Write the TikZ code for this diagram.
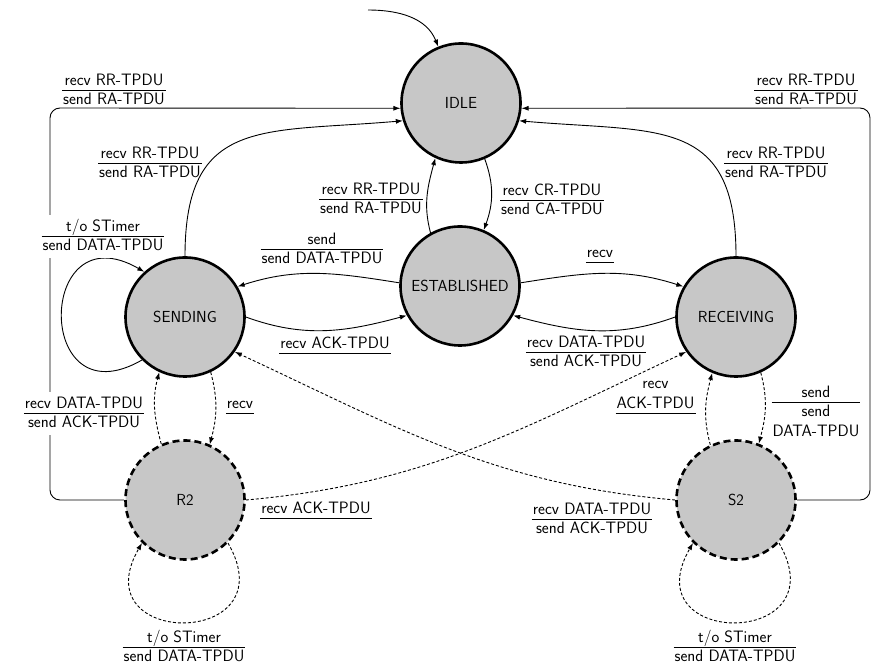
\documentclass[tikz,border=0pt]{standalone}
\usetikzlibrary{arrows.meta}

% transition label: numerator over a rule over denominator;
% the box baseline sits exactly on the top of the rule
\newsavebox\fnumbox
\newsavebox\fdenbox
\newlength\fwd
\newlength\fdengap
\newcommand\frlab[2]{%
  \sbox\fnumbox{\begin{tabular}[b]{@{}c@{}}#1\end{tabular}}%
  \sbox\fdenbox{\begin{tabular}[t]{@{}c@{}}#2\end{tabular}}%
  \setlength\fwd{\wd\fnumbox}%
  \ifdim\wd\fdenbox>\fwd\setlength\fwd{\wd\fdenbox}\fi
  \addtolength\fwd{2pt}%
  \setlength\fdengap{14.5pt}\addtolength\fdengap{-\ht\fdenbox}\addtolength\fdengap{-0.8pt}%
  \vtop{\offinterlineskip
    \vbox{\hbox to\fwd{\hss\raisebox{0pt}[\ht\fnumbox][0pt]{\usebox\fnumbox}\hss}\kern4.5pt}%
    \hrule height0.8pt width\fwd
    \kern\fdengap
    \hbox to\fwd{\hss\usebox\fdenbox\hss}}}

\tikzset{
  st/.style={circle, draw, line width=2.6pt, fill=black!22, minimum size=119pt,
    inner sep=0pt, font=\fontsize{16}{19}\selectfont\sffamily},
  tst/.style={st, dash pattern=on 7pt off 4pt},
  tr/.style={draw, line width=0.9pt, -{Latex[length=7pt,width=5pt]}},
  dtr/.style={tr, dash pattern=on 3pt off 2pt},
  lab/.style={anchor=base, inner sep=0pt, font=\fontsize{16.5}{20}\selectfont\sffamily},
  blank/.style={lab, fill=white, inner sep=2pt},
}

\begin{document}
\begin{tikzpicture}[x=1pt,y=1pt]
\useasboundingbox (0,0) rectangle (875,666);

% states
\node[st]  (idle)      at (461,563) {IDLE};
\node[st]  (est)       at (460,380) {ESTABLISHED};
\node[st]  (sending)   at (185,349) {SENDING};
\node[st]  (receiving) at (736,349) {RECEIVING};
\node[tst] (r2)        at (185,166) {R2};
\node[tst] (s2)        at (736,166) {S2};

\coordinate (init) at (368,656);
\coordinate (lc) at (50,558);
\coordinate (rc) at (870,558);

% transitions
\draw[tr] (init) to[out=0,in=112] (idle.112);
\draw[tr] (sending.90) to[out=90,in=185,looseness=1.4] (idle.197);
\draw[tr] (receiving.90) to[out=90,in=-5,looseness=1.4] (idle.-17);
\draw[tr, rounded corners=10pt] (r2.west) -| (lc) -- (idle.185);
\draw[tr, rounded corners=10pt] (s2.east) -| (rc) -- (idle.-5);
\draw[tr] (est.119) to[out=105,in=255] (idle.245);
\draw[tr] (idle.-67) to[out=-70,in=70] (est.67);
\draw[tr] (est.177) to[out=171,in=18] (sending.30);
\draw[tr] (sending.0) to[out=-20,in=195] (est.209);
\draw[tr] (est.3) to[out=9,in=162] (receiving.150);
\draw[tr] (receiving.180) to[out=200,in=-15] (est.331);
\draw[dtr] (sending.-65) to[out=-75,in=75] (r2.66);
\draw[dtr] (r2.113) to[out=105,in=255] (sending.245);
\draw[dtr] (receiving.-66) to[out=-75,in=75] (s2.68);
\draw[dtr] (s2.115) to[out=105,in=255] (receiving.247);
\draw[dtr] (r2.east) to[out=5,in=205] (receiving.215);
\draw[dtr] (s2.west) to[out=175,in=-25] (sending.-35);
\draw[tr] (sending.225) to[out=210,in=150,distance=125pt] (sending.132);
\draw[dtr] (r2.-45) to[out=-60,in=240,distance=122pt] (r2.225);
\draw[dtr] (s2.-45) to[out=-60,in=240,distance=122pt] (s2.225);

% labels
\node[lab] (l1) at (114,576) {\frlab{recv RR-TPDU}{send RA-TPDU}};
\node[lab] (l2) at (150,503) {\frlab{recv RR-TPDU}{send RA-TPDU}};
\node[lab] (l3) at (371,467) {\frlab{recv RR-TPDU}{send RA-TPDU}};
\node[lab] (l4) at (552,466) {\frlab{recv CR-TPDU}{send CA-TPDU}};
\node[lab] (l5) at (776,503) {\frlab{recv RR-TPDU}{send RA-TPDU}};
\node[lab] (l6) at (806,576) {\frlab{recv RR-TPDU}{send RA-TPDU}};
\node[blank] (l7) at (103,430) {\frlab{t/o STimer}{send DATA-TPDU}};
\node[lab] (l8) at (322,417) {\frlab{send}{send DATA-TPDU}};
\node[lab] (l9) at (335,313) {\frlab{recv ACK-TPDU}{}};
\node[lab] (l10) at (600,404) {\frlab{recv}{}};
\node[lab] (l11) at (586,314) {\frlab{recv DATA-TPDU}{send ACK-TPDU}};
\node[blank] (l12) at (84,253) {\frlab{recv DATA-TPDU}{send ACK-TPDU}};
\node[lab] (l13) at (240,253) {\frlab{recv}{}};
\node[lab] (l14) at (655.5,253) {\frlab{recv\\ACK-TPDU}{}};
\node[lab] (l15) at (816,264) {\frlab{send}{send\\DATA-TPDU}};
\node[lab] (l16) at (316,148) {\frlab{recv ACK-TPDU}{}};
\node[lab] (l17) at (592,147) {\frlab{recv DATA-TPDU}{send ACK-TPDU}};
\node[lab] (l18) at (184,19) {\frlab{t/o STimer}{send DATA-TPDU}};
\node[lab] (l19) at (735,19) {\frlab{t/o STimer}{send DATA-TPDU}};
\end{tikzpicture}
\end{document}
